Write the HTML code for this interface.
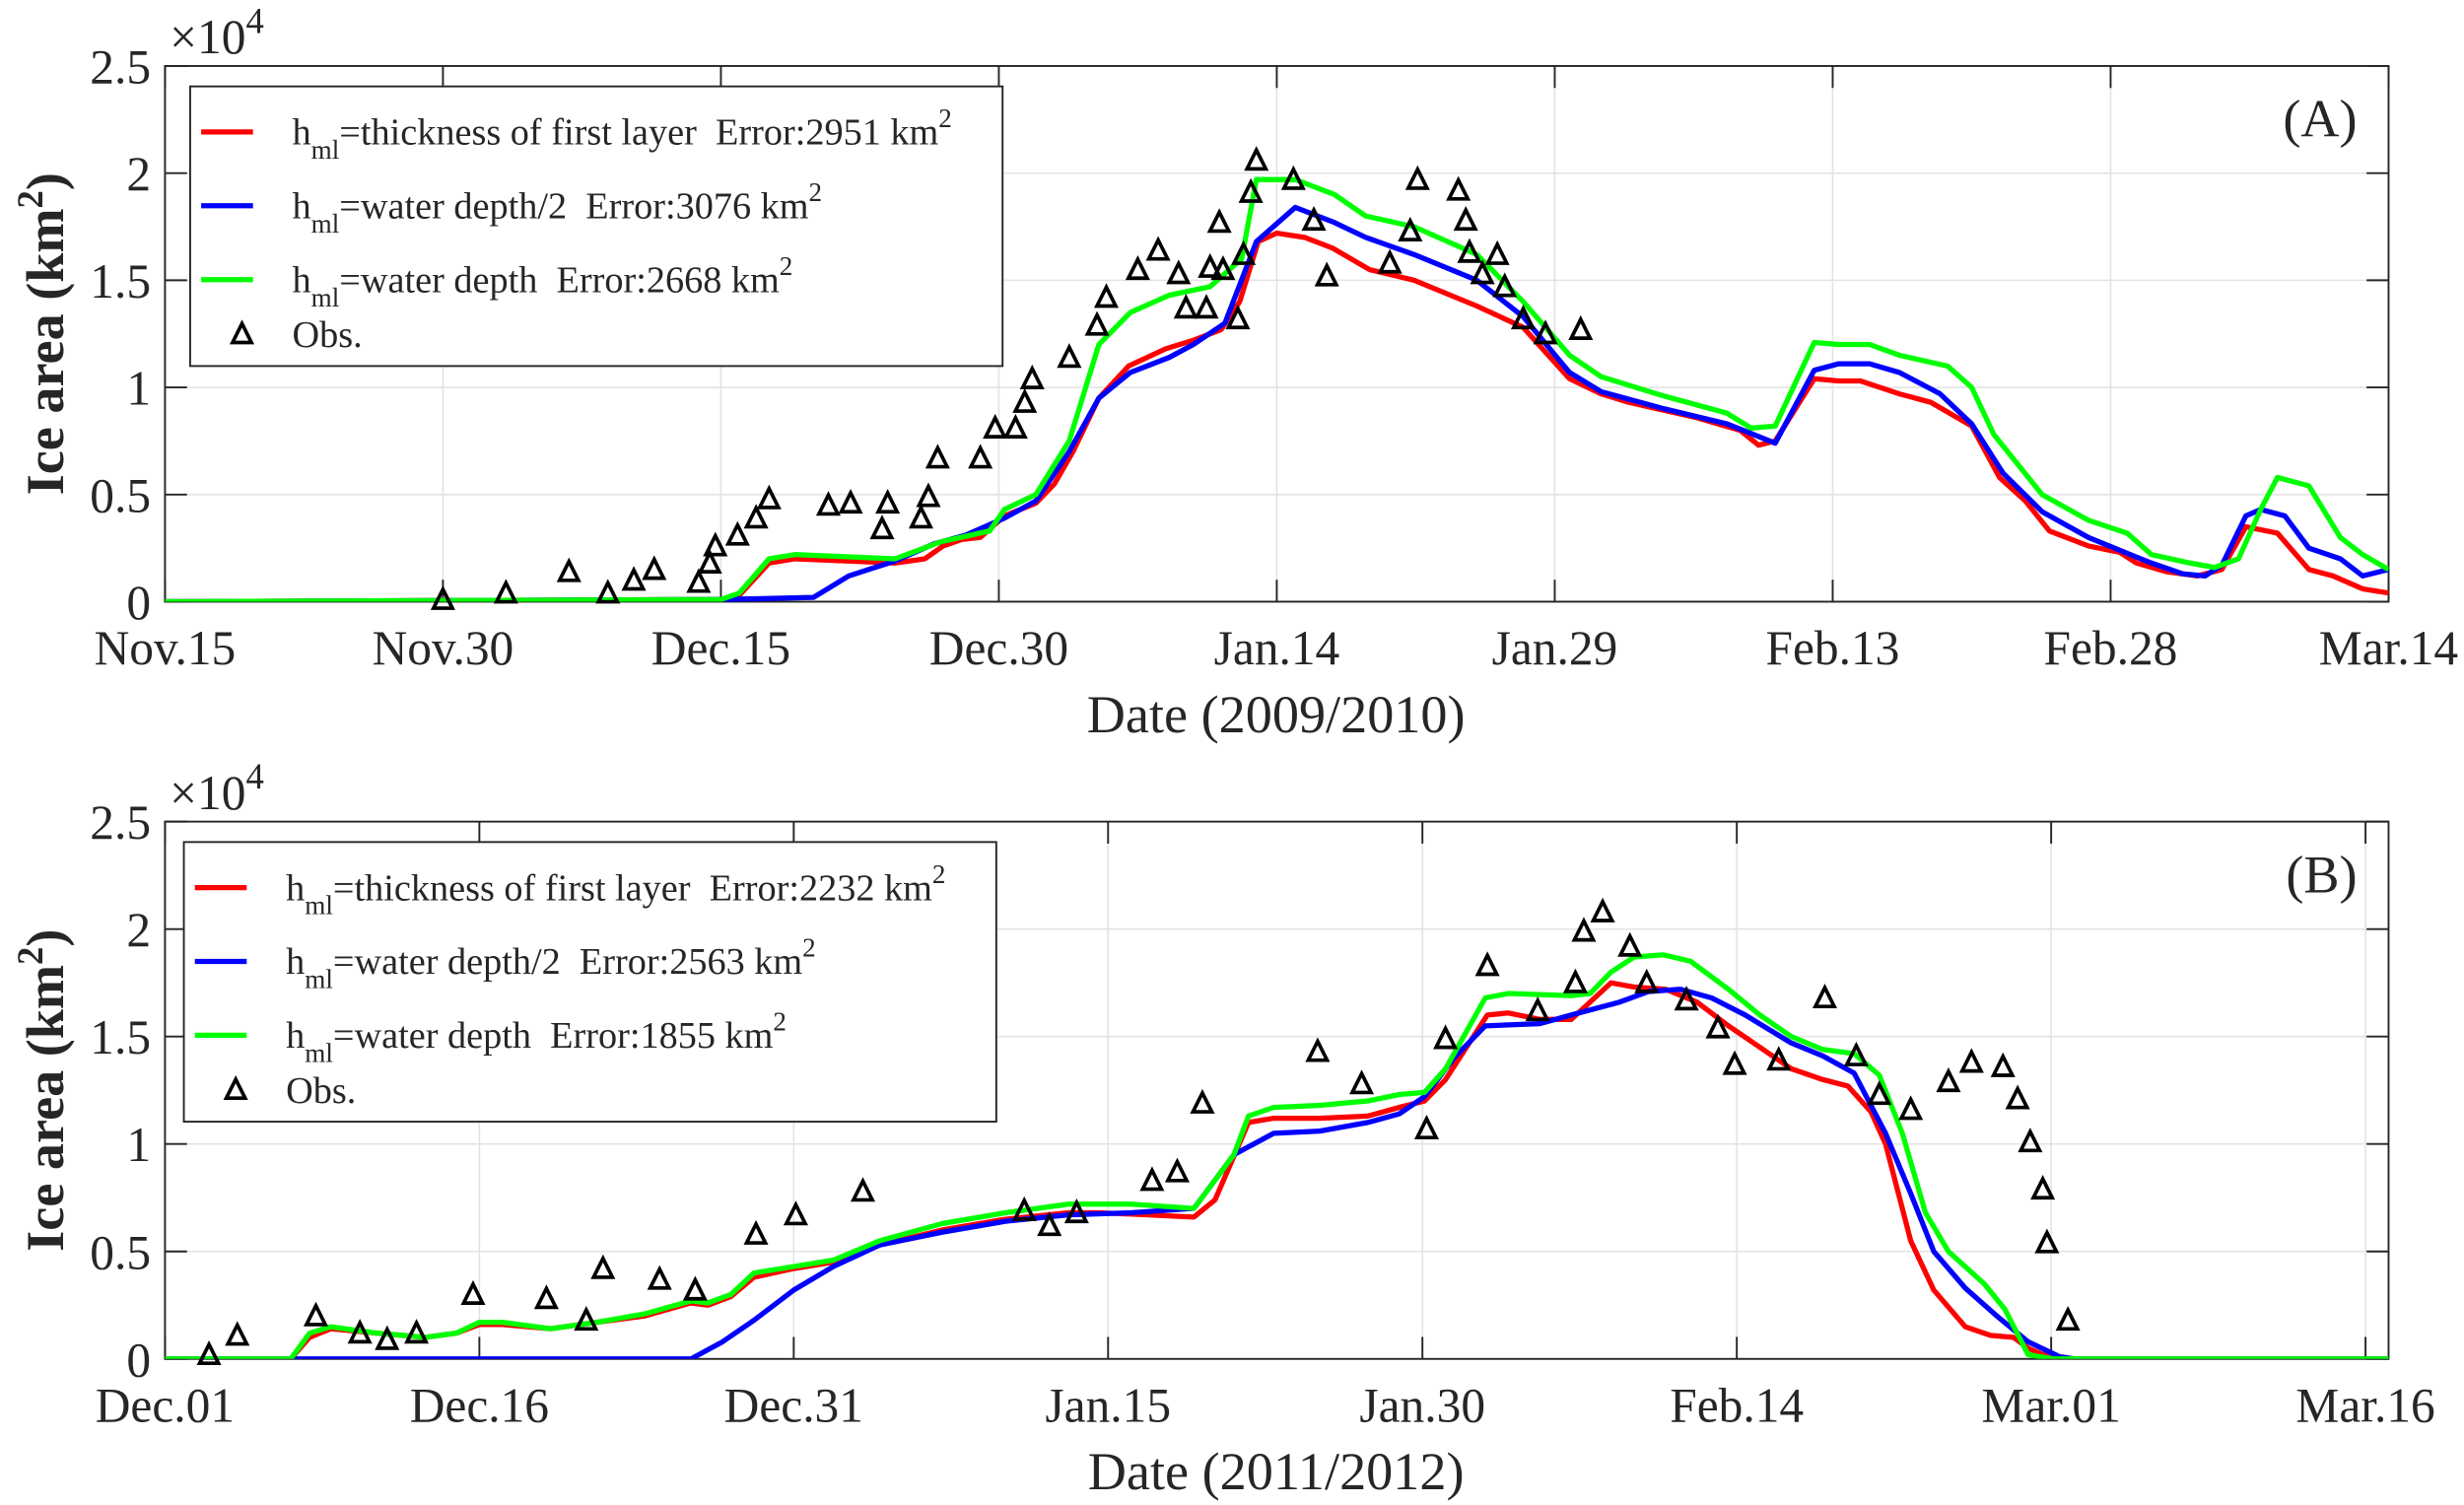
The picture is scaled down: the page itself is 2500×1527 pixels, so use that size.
<!DOCTYPE html>
<html><head><meta charset="utf-8"><style>
html,body{margin:0;padding:0;background:#fff}
svg{display:block}
svg text{font-family:"Liberation Serif","Times New Roman","DejaVu Serif",serif !important;fill:#262626}
</style></head><body>
<svg id="fig" width="2500" height="1527" viewBox="0 0 1568 958" preserveAspectRatio="none" font-family="Liberation Serif, serif" xmlns="http://www.w3.org/2000/svg"></svg>
<script>
// ---------- Panel A data ----------
const aRedX=[0,30,31,32.6,34,39.4,41,42,43,44,45.3,47,48,49,50.4,52,54,55.5,57,58,59,60,61.5,63,65,67.4,70.8,73.3,75.8,77.5,79,82.6,85,86,86.9,89,90.3,91.5,93.6,95.3,97.5,99,100.4,101.7,103.8,105.5,106.4,108,109.7,111,112.3,114,115.7,117,118.6,120];
const aRedY=[0,0.01,0.03,0.18,0.2,0.18,0.2,0.26,0.29,0.3,0.4,0.46,0.55,0.7,0.95,1.1,1.18,1.22,1.27,1.4,1.68,1.72,1.7,1.65,1.55,1.5,1.38,1.28,1.04,0.97,0.93,0.86,0.8,0.73,0.75,1.04,1.03,1.03,0.97,0.93,0.82,0.58,0.47,0.33,0.26,0.23,0.18,0.14,0.12,0.15,0.35,0.32,0.15,0.12,0.06,0.04];
const aBlueX=[0,30,35,36.9,39.4,41.5,43.2,45.3,47,48.8,50.4,52.1,54.2,55.5,57.2,58.9,61,63.1,64.8,67.4,70.8,73.3,75.8,77.5,80.9,84.3,86.9,89,90.3,92,93.6,95.8,97.5,99.2,101.3,103.8,105.5,107.2,108.9,110.1,111,112.3,113.1,114.4,115.7,117.4,118.6,120];
const aBlueY=[0,0.01,0.02,0.12,0.19,0.27,0.31,0.39,0.47,0.7,0.95,1.07,1.14,1.2,1.3,1.68,1.84,1.77,1.7,1.62,1.5,1.33,1.07,0.98,0.9,0.83,0.74,1.08,1.11,1.11,1.07,0.97,0.83,0.6,0.42,0.3,0.24,0.18,0.13,0.12,0.17,0.4,0.43,0.4,0.25,0.2,0.12,0.15];
const aGreenX=[0,30,31,32.6,34,39.4,41.9,44.5,45.3,47,48.8,50.4,52.1,54.2,56.4,58.1,58.9,61,63.1,64.8,67.4,70.8,73.3,75.8,77.5,80.9,84.3,85.6,86.9,89,90.3,92,93.6,96.2,97.5,98.7,101.3,103.8,105.9,107.2,109.3,110.6,111.9,113.1,114,115.7,117.4,118.6,120];
const aGreenY=[0,0.01,0.04,0.2,0.22,0.2,0.28,0.33,0.43,0.5,0.75,1.2,1.35,1.43,1.47,1.6,1.97,1.97,1.9,1.8,1.75,1.62,1.4,1.15,1.05,0.96,0.88,0.81,0.82,1.21,1.2,1.2,1.15,1.1,1.0,0.78,0.5,0.38,0.32,0.22,0.18,0.16,0.2,0.43,0.58,0.54,0.3,0.22,0.15];
const aObsX=[15,18.4,21.8,23.9,25.3,26.4,28.8,29.4,29.7,30.9,31.9,32.6,35.8,37,38.7,39,40.8,41.2,41.7,44,44.8,45.9,46.4,46.8,48.8,50.3,50.8,52.5,53.6,54.7,55.1,56.2,56.9,56.4,57.1,57.9,58.2,58.6,58.9,60.9,62,62.7,66.1,67.2,67.6,69.8,70.2,70.4,71.1,71.9,72.3,73.3,74.5,76.4];
const aObsY=[0.01,0.04,0.14,0.04,0.1,0.15,0.09,0.18,0.26,0.31,0.39,0.48,0.45,0.46,0.34,0.46,0.39,0.49,0.67,0.67,0.81,0.81,0.93,1.04,1.14,1.29,1.42,1.55,1.64,1.53,1.37,1.37,1.77,1.56,1.55,1.32,1.62,1.91,2.06,1.97,1.78,1.52,1.58,1.73,1.97,1.92,1.78,1.63,1.53,1.62,1.47,1.32,1.25,1.27];
const aTicks=["Nov.15","Nov.30","Dec.15","Dec.30","Jan.14","Jan.29","Feb.13","Feb.28","Mar.14"];
// ---------- Panel B data ----------
const bRedX=[0,6,6.9,7.9,10.1,12.4,13.9,15,16.1,18.4,20.6,22.9,25.1,25.9,27,28.1,30,31.9,34.1,37.1,40.1,43.1,44.6,46.9,49.1,50.1,51.7,52.9,55.1,57.4,58.9,60.1,61.1,63.1,64.1,65.6,67.1,69,70.1,71.6,73.1,74.6,76.1,77.6,79.1,80.3,81.4,82.1,83.3,84.4,85.9,87.1,88.2,88.9,89.6,90.4,91.1,106.1];
const bRedY=[0,0,0.1,0.14,0.12,0.1,0.12,0.16,0.16,0.14,0.17,0.2,0.26,0.25,0.29,0.38,0.42,0.45,0.53,0.6,0.65,0.68,0.68,0.67,0.66,0.74,1.1,1.12,1.12,1.13,1.17,1.2,1.3,1.6,1.61,1.58,1.58,1.75,1.73,1.72,1.66,1.55,1.45,1.35,1.3,1.27,1.15,1.0,0.55,0.32,0.15,0.11,0.1,0.05,0.02,0,0,0];
const bBlueX=[0,25.1,26.6,28.1,30,31.9,34.1,37.1,40.1,43.1,46.1,49.1,51,52.9,55.1,57.4,58.9,60.1,61.5,63,65.6,67.1,69.4,70.8,72.3,73.8,75.4,77.6,79.1,80.6,82.1,83.3,84.4,85.9,87.4,88.9,90.4,91.1,106.1];
const bBlueY=[0,0,0.08,0.18,0.32,0.43,0.53,0.59,0.64,0.67,0.68,0.7,0.95,1.05,1.06,1.1,1.14,1.22,1.4,1.55,1.56,1.6,1.66,1.71,1.72,1.68,1.6,1.47,1.41,1.33,1.05,0.77,0.5,0.33,0.2,0.08,0.01,0,0];
const bGreenX=[0,6,6.9,7.9,10.1,12.4,13.9,15,16.1,18.4,20.6,22.9,25.1,25.9,27,28.1,30,31.9,34.1,37.1,40.1,43.1,46.1,49.1,51,51.7,52.9,55.1,57.4,58.9,60.1,61.1,63,64.1,67.1,68,69,70.1,71.5,72.8,74.6,76.1,77.6,79.1,80.6,81.8,82.9,84,85.1,86.8,87.8,88.9,90.1,106.1];
const bGreenY=[0,0,0.12,0.15,0.12,0.1,0.12,0.17,0.17,0.14,0.17,0.21,0.27,0.26,0.3,0.4,0.43,0.46,0.55,0.63,0.68,0.72,0.72,0.7,0.95,1.13,1.17,1.18,1.2,1.23,1.24,1.35,1.68,1.7,1.69,1.7,1.8,1.87,1.88,1.85,1.72,1.6,1.5,1.44,1.42,1.32,1.05,0.68,0.5,0.35,0.23,0.02,0,0];
const bObsX=[2.1,3.45,7.2,9.3,10.6,12,14.7,18.2,20.1,20.9,23.6,25.3,28.2,30.1,33.3,41,42.2,43.5,47.1,48.3,49.5,55,57.1,60.2,61.1,63.1,65.5,67.3,67.7,68.6,69.9,70.7,72.6,74.1,74.9,77,79.2,80.7,81.8,83.3,85.1,86.2,87.7,88.4,89,89.6,89.8,90.8];
const bObsY=[0.02,0.11,0.2,0.12,0.09,0.12,0.3,0.28,0.18,0.42,0.37,0.32,0.58,0.67,0.78,0.69,0.62,0.68,0.83,0.87,1.19,1.43,1.28,1.07,1.49,1.83,1.62,1.75,1.99,2.08,1.92,1.75,1.67,1.54,1.37,1.39,1.68,1.41,1.23,1.16,1.29,1.38,1.36,1.21,1.01,0.79,0.54,0.18];
const bTicks=["Dec.01","Dec.16","Dec.31","Jan.15","Jan.30","Feb.14","Mar.01","Mar.16"];
const yTickVals=[0,0.5,1,1.5,2,2.5];
const yTickLabels=["0","0.5","1","1.5","2","2.5"];

const NS="http://www.w3.org/2000/svg";
const svg=document.getElementById('fig');
function mk(tag,attrs,parent){const e=document.createElementNS(NS,tag);for(const k in attrs)e.setAttribute(k,attrs[k]);(parent||svg).appendChild(e);return e;}
const FF='Liberation Serif, Times New Roman, serif';

function panel(cfg){
  const g=mk('g',{'font-family':FF});
  
  
  const L=105,R=1520,T=cfg.top,B=cfg.bottom;
  const xs=d=>L+(d/cfg.xmax)*(R-L);
  const ys=v=>B-(v/2.5)*(B-T);
  cfg.ticks.forEach((t,i)=>{const x=xs(i*15);mk('line',{x1:x,x2:x,y1:T,y2:B,stroke:'#e3e3e3','stroke-width':1},g);});
  yTickVals.forEach(v=>{mk('line',{x1:L,x2:R,y1:ys(v),y2:ys(v),stroke:'#e3e3e3','stroke-width':1},g);});
  mk('rect',{x:L,y:T,width:R-L,height:B-T,fill:'none',stroke:'#262626','stroke-width':1.2},g);
  cfg.ticks.forEach((t,i)=>{const x=xs(i*15);
    mk('line',{x1:x,x2:x,y1:B,y2:B-14,stroke:'#262626','stroke-width':1.2},g);
    mk('line',{x1:x,x2:x,y1:T,y2:T+14,stroke:'#262626','stroke-width':1.2},g);
    const tl=mk('text',{x:x,y:B+40,'font-size':31,'text-anchor':'middle','font-family':FF},g);tl.textContent=t;
    
    
  });
  yTickVals.forEach((v,i)=>{const y=ys(v);
    mk('line',{x1:L,x2:L+14,y1:y,y2:y,stroke:'#262626','stroke-width':1.2},g);
    mk('line',{x1:R,x2:R-14,y1:y,y2:y,stroke:'#262626','stroke-width':1.2},g);
    const tl=mk('text',{x:L-9,y:y+11,'font-size':31,'text-anchor':'end','font-family':FF},g);tl.textContent=yTickLabels[i];
    
    
  });
  const ex=mk('text',{x:108,y:T-8,'font-size':31,'font-family':FF},g);
  ex.innerHTML='×10<tspan dy="-13" font-size="23">4</tspan>';
  
  
  const xt=mk('text',{x:812,y:B+83,'font-size':34,'text-anchor':'middle','font-family':FF},g);xt.textContent=cfg.xtitle;
  
  
  const cy=(T+B)/2;
  const yt=mk('text',{x:0,y:0,'font-size':34,'font-weight':'bold','text-anchor':'middle','font-family':FF,transform:`translate(40,${cy}) rotate(-90)`},g);
  yt.innerHTML='Ice area (km<tspan dy="-13" font-size="23">2</tspan><tspan dy="13">)</tspan>';
  
  
  const cid='clip'+cfg.name;
  const cp=mk('clipPath',{id:cid},g);mk('rect',{x:L,y:T,width:R-L,height:B-T},cp);
  const lines=mk('g',{'clip-path':`url(#${cid})`},g);
  [[cfg.rx,cfg.ry,'#ff0000','red'],[cfg.bx,cfg.by,'#0000ff','blue'],[cfg.gx,cfg.gy,'#00ff00','green']].forEach(s=>{
    const pts=s[0].map((d,i)=>xs(d).toFixed(1)+','+ys(s[1][i]).toFixed(1)).join(' ');
    const pl=mk('polyline',{points:pts,fill:'none',stroke:s[2],'stroke-width':3.3,'stroke-linejoin':'round'},lines);
    
    
  });
  cfg.ox.forEach((d,i)=>{const x=xs(d),y=ys(cfg.oy[i]);
    const p=mk('polygon',{points:`${x},${y-6.5} ${x-6},${y+5.5} ${x+6},${y+5.5}`,fill:'none',stroke:'#000','stroke-width':2.3},g);
    
    
  });
  const pl=mk('text',{x:1500,y:T+45,'font-size':34,'text-anchor':'end','font-family':FF},g);pl.textContent=cfg.label;
  
  
  const lg=mk('g',{},g);
  
  
  const lx=cfg.legX, ly=cfg.legY;
  mk('rect',{x:lx,y:ly,width:517,height:178,fill:'#fff',stroke:'#262626','stroke-width':1.2},lg);
  const ents=[['#ff0000','=thickness of first layer\u00a0\u00a0Error:'+cfg.err[0]+' km'],['#0000ff','=water depth/2\u00a0\u00a0Error:'+cfg.err[1]+' km'],['#00ff00','=water depth\u00a0\u00a0Error:'+cfg.err[2]+' km']];
  ents.forEach((e,i)=>{const y=ly+29+i*47;
    mk('line',{x1:lx+7,x2:lx+40,y1:y,y2:y,stroke:e[0],'stroke-width':3.3},lg);
    const t=mk('text',{x:lx+65,y:y+8,'font-size':24,'font-family':FF},lg);
    t.innerHTML='h<tspan dy="9" font-size="17">ml</tspan><tspan dy="-9">'+e[1]+'</tspan><tspan dy="-11" font-size="17">2</tspan>';
    
    
  });
  const oy=ly+164;
  mk('polygon',{points:`${lx+33},${oy-13} ${lx+27},${oy-1} ${lx+39},${oy-1}`,fill:'none',stroke:'#000','stroke-width':2.3},lg);
  const ot=mk('text',{x:lx+65,y:oy+2,'font-size':24,'font-family':FF},lg);ot.textContent='Obs.';
  
  
}
panel({name:'panel-a',top:42,bottom:383,xmax:120,ticks:aTicks,xtitle:'Date (2009/2010)',label:'(A)',legX:121,legY:55,err:['2951','3076','2668'],rx:aRedX,ry:aRedY,bx:aBlueX,by:aBlueY,gx:aGreenX,gy:aGreenY,ox:aObsX,oy:aObsY});
panel({name:'panel-b',top:523,bottom:865,xmax:106.1,ticks:bTicks,xtitle:'Date (2011/2012)',label:'(B)',legX:117,legY:536,err:['2232','2563','1855'],rx:bRedX,ry:bRedY,bx:bBlueX,by:bBlueY,gx:bGreenX,gy:bGreenY,ox:bObsX,oy:bObsY});
</script>
</body></html>
